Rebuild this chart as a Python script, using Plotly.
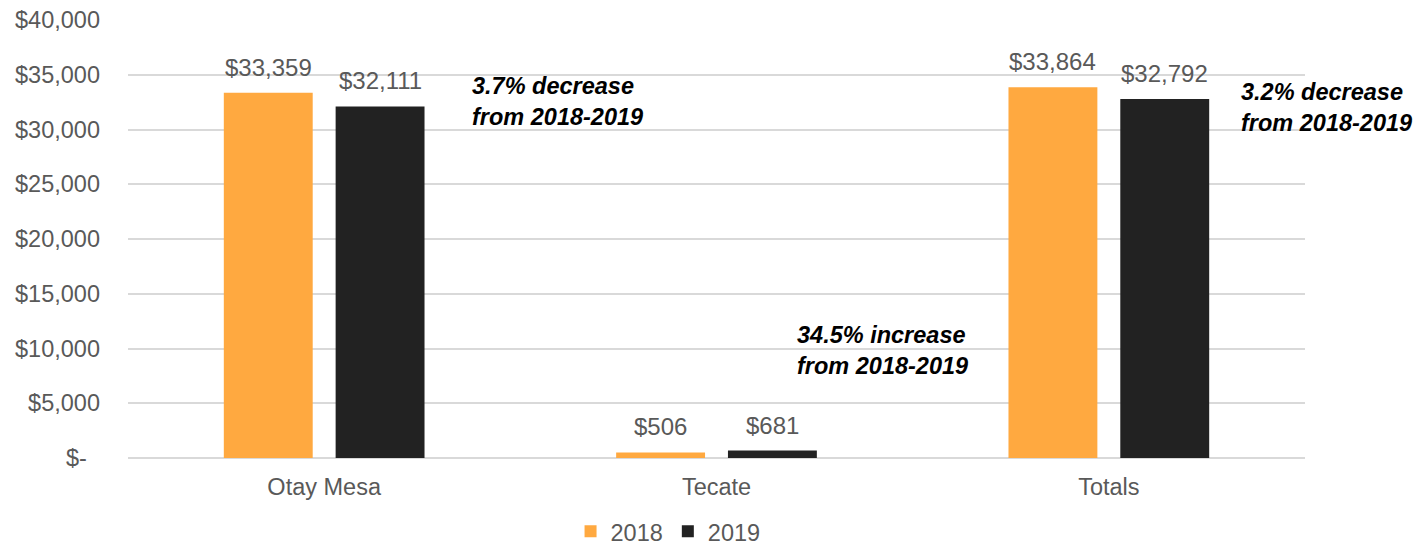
import plotly.graph_objects as go

categories = ["Otay Mesa", "Tecate", "Totals"]
series_names = ["2018", "2019"]
values_2018 = [33359, 506, 33864]
values_2019 = [32111, 681, 32792]
tick_vals = [0, 5000, 10000, 15000, 20000, 25000, 30000, 35000, 40000]
tick_text = ["$-\u00a0\u00a0", "$5,000", "$10,000", "$15,000", "$20,000",
             "$25,000", "$30,000", "$35,000", "$40,000"]
notes = ["<b><i>3.7% decrease<br>from 2018-2019</i></b>",
         "<b><i>34.5% increase<br>from 2018-2019</i></b>",
         "<b><i>3.2% decrease<br>from 2018-2019</i></b>"]
note_x = [0.372, 1.2, 2.332]
note_y = [32560, 9820, 32010]

colors = ["#FFA940", "#222222"]
FONT = "Liberation Sans, Arial, sans-serif"
GRAY = "#595959"
FS = 23.5

fig = go.Figure()
for name, vals, col in zip(series_names, [values_2018, values_2019], colors):
    fig.add_trace(go.Bar(x=categories, y=vals, name=name, marker_color=col,
                         marker_line_width=0))

# data labels
for vals, shift in zip([values_2018, values_2019], [-56, 56]):
    for c, v in zip(categories, vals):
        fig.add_annotation(x=c, y=v, text="${:,}".format(v), showarrow=False,
                           xref="x", yref="y", xshift=shift, yanchor="bottom",
                           yshift=10, font=dict(size=24, color=GRAY, family=FONT))

for t, x, y in zip(notes, note_x, note_y):
    fig.add_annotation(x=x, y=y, text=t, showarrow=False, xref="x", yref="y",
                       xanchor="left", yanchor="middle", align="left",
                       font=dict(size=FS, color="#000000", family=FONT))

fig.update_layout(
    width=1428, height=548,
    margin=dict(l=128, r=123, t=20, b=90, autoexpand=False),
    paper_bgcolor="white", plot_bgcolor="white",
    barmode="group", bargap=0.43, bargroupgap=0.205,
    font=dict(family=FONT, size=FS, color=GRAY),
    showlegend=True,
    legend=dict(orientation="h", x=0.376, xanchor="left", y=-0.168, yanchor="middle",
                font=dict(size=FS, color=GRAY, family=FONT), itemwidth=30,
                tracegroupgap=0),
)
fig.update_yaxes(range=[0, 40000], tickvals=tick_vals, ticktext=tick_text,
                 showgrid=True, gridcolor="#D9D9D9", gridwidth=1.5,
                 zeroline=True, zerolinecolor="#D9D9D9", zerolinewidth=1.5,
                 showline=False, ticks="", ticklabelstandoff=27, automargin=False,
                 tickfont=dict(size=FS, color=GRAY, family=FONT))
fig.update_xaxes(range=[-0.5, 2.5], showgrid=False, showline=False, ticks="",
                 ticklabelstandoff=12, automargin=False,
                 tickfont=dict(size=FS, color=GRAY, family=FONT))

fig.write_html("out.html", config={"displayModeBar": False},
               post_script="document.body.style.margin='0';document.body.style.overflow='hidden';")
